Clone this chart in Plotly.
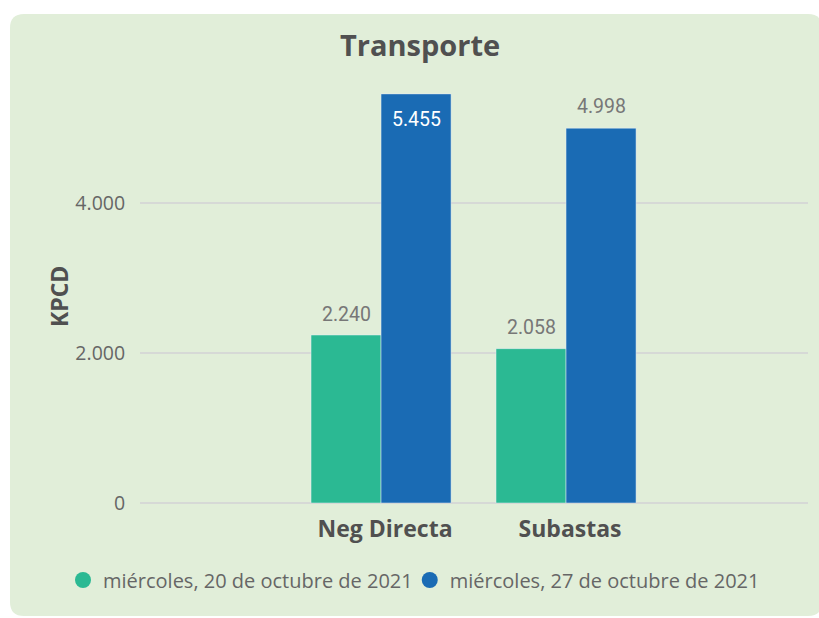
import plotly.graph_objects as go

categories = ["Neg Directa", "Subastas"]
series_names = ["miércoles, 20 de octubre de 2021", "miércoles, 27 de octubre de 2021"]
values_20 = [2240, 2058]
values_27 = [5455, 4998]
tick_vals = [0, 2000, 4000]

GREEN = "#2BB993"
BLUE = "#1A6BB4"
PANEL = "#E1EED9"
TXT = "#505050"
LBL = "#777777"

W, H = 819, 618
L, R, T, B = 140, 11, 75, 115
PW, PH = W - L - R, H - T - B
BARGAP = 0.243

def px(x):
    return (x - L) / PW

def py(y):
    return (H - B - y) / PH

fig = go.Figure()

fig.add_trace(go.Bar(x=categories, y=values_20, name=series_names[0],
                     marker_color=GREEN, showlegend=False))
fig.add_trace(go.Bar(x=categories, y=values_27, name=series_names[1],
                     marker_color=BLUE, showlegend=False))
# legend entries with circle symbols
for name, col in zip(series_names, [GREEN, BLUE]):
    fig.add_trace(go.Scatter(
        x=[categories[0]], y=[None], mode="markers", name=name,
        marker=dict(color=col, size=19, symbol="circle"),
        showlegend=True,
    ))

# data labels placed at each bar's value through the axis scales
off = (1 - BARGAP) / 4
annotations = []
for i, v in enumerate(values_20):
    annotations.append(dict(x=i - off, y=v, xref="x", yref="y", text=f"{v:,}".replace(",", "."),
                            showarrow=False, yanchor="middle", yshift=21,
                            font=dict(size=19.5, color=LBL, family="Roboto")))
for i, v in enumerate(values_27):
    inside = v == max(values_27)
    annotations.append(dict(x=i + off, y=v, xref="x", yref="y", text=f"{v:,}".replace(",", "."),
                            showarrow=False, yanchor="middle",
                            yshift=-26 if inside else 22,
                            font=dict(size=19.5, color="white" if inside else LBL,
                                      family="Roboto")))
annotations.append(dict(text="<b>KPCD</b>", x=px(41), y=py(297), xref="paper",
                        yref="paper", textangle=-90, showarrow=False,
                        font=dict(size=23, color=TXT, family="Open Sans")))

# rounded panel
x0, x1, y0, y1, r = px(10), px(822), py(14), py(616), 14
rx, ry = r / PW, r / PH
path = (f"M {x0+rx},{y0} L {x1-rx},{y0} Q {x1},{y0} {x1},{y0-ry} "
        f"L {x1},{y1+ry} Q {x1},{y1} {x1-rx},{y1} L {x0+rx},{y1} "
        f"Q {x0},{y1} {x0},{y1+ry} L {x0},{y0-ry} Q {x0},{y0} {x0+rx},{y0} Z")

fig.update_layout(
    width=W, height=H,
    margin=dict(l=L, r=R, t=T, b=B, autoexpand=False),
    paper_bgcolor="white", plot_bgcolor="rgba(0,0,0,0)",
    separators=",.",
    barmode="group", bargap=BARGAP, bargroupgap=0,
    font=dict(family="Open Sans", color=TXT),
    shapes=[dict(type="path", path=path, xref="paper", yref="paper",
                 fillcolor=PANEL, line=dict(width=0), layer="below")],
    title=dict(text="<b>Transporte</b>", x=0.513, xanchor="center",
               y=1 - 46 / H, yanchor="middle",
               font=dict(size=29, color=TXT, family="Open Sans")),
    xaxis=dict(range=[-1.303, 2.308], showgrid=False, zeroline=False,
               showline=False, ticks="outside", ticklen=5,
               tickcolor="rgba(0,0,0,0)", ticklabelshift=4,
               tickfont=dict(size=23, color=TXT, family="Open Sans"),
               tickvals=categories,
               ticktext=[f"<b>{c}</b>" for c in categories]),
    yaxis=dict(range=[0, PH / 0.075], tickvals=tick_vals, tickformat=",.0f",
               showgrid=True, gridcolor="#D6D9D6", gridwidth=1.5,
               zeroline=True, zerolinecolor="#D6D9D6", zerolinewidth=1.5,
               ticks="outside", ticklen=10, tickcolor="rgba(0,0,0,0)",
               tickfont=dict(size=19.5, color="#666666", family="Open Sans")),
    legend=dict(orientation="h", x=px(71), xanchor="left",
                y=py(580), yanchor="middle",
                font=dict(size=20, color="#666666", family="Open Sans"),
                itemsizing="trace", itemwidth=30, tracegroupgap=0,
                indentation=-8,
                bgcolor="rgba(0,0,0,0)"),
    annotations=annotations,
)

fig.write_html("out.html")
